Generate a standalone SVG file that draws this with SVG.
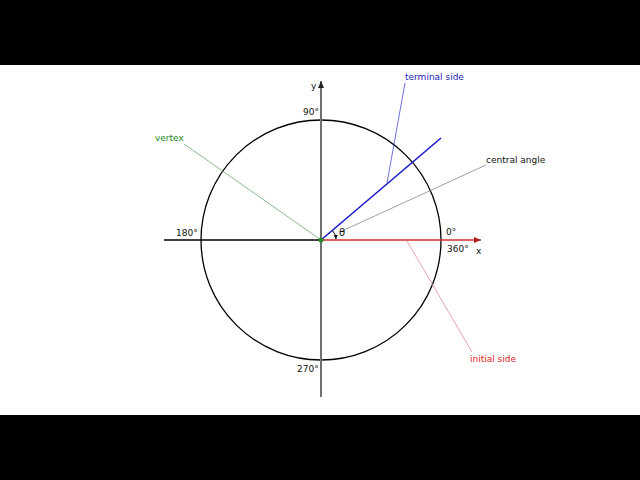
<svg xmlns="http://www.w3.org/2000/svg" width="640" height="480" viewBox="0 0 640 480">
<style>
text{font-family:"DejaVu Sans",Verdana,sans-serif;font-size:9px;fill:#111}
.lead{stroke-width:0.7;fill:none}
</style>
<defs>
<marker id="ah" markerWidth="8" markerHeight="8" refX="7" refY="4" orient="auto" markerUnits="userSpaceOnUse">
<path d="M0,1 L7,4 L0,7 Z" fill="#222"/>
</marker>
<marker id="ahr" markerWidth="8" markerHeight="8" refX="7" refY="4" orient="auto" markerUnits="userSpaceOnUse">
<path d="M0,1 L7,4 L0,7 Z" fill="#b02020"/>
</marker>
<marker id="ahs" markerWidth="5" markerHeight="5" refX="4" refY="2.5" orient="auto" markerUnits="userSpaceOnUse">
<path d="M0,0.5 L4,2.5 L0,4.5 Z" fill="#000"/>
</marker>
</defs>
<rect x="0" y="0" width="640" height="480" fill="#fff"/>
<rect x="0" y="0" width="640" height="65" fill="#000"/>
<rect x="0" y="415" width="640" height="65" fill="#000"/>
<g id="circle">
<circle cx="321" cy="240" r="120" fill="none" stroke="#000" stroke-width="1.3"/>
</g>
<g id="connectors">
<line id="y-axis" x1="321" y1="397" x2="321" y2="81" stroke="#707070" stroke-width="2" marker-end="url(#ah)"/>
<line id="x-axis-neg" x1="164" y1="240" x2="321" y2="240" stroke="#000" stroke-width="1.3"/>
<line id="initial-side" x1="321" y1="240" x2="481" y2="240" stroke="#d03030" stroke-width="1.3" marker-end="url(#ahr)"/>
<line id="terminal-side" x1="321" y1="240" x2="441" y2="138" stroke="#1a1acc" stroke-width="1.6"/>
<path id="angle-arc" d="M332.4,230.3 A15,15 0 0 1 336,239" fill="none" stroke="#000" stroke-width="1" marker-end="url(#ahs)"/>
<line class="lead" x1="405" y1="83" x2="387" y2="183" stroke="#3333cc"/>
<line class="lead" x1="342" y1="231" x2="486" y2="165" stroke="#777"/>
<line class="lead" x1="184" y1="144" x2="321" y2="240" stroke="#5a9a5a"/>
<line class="lead" x1="407" y1="241" x2="472" y2="352" stroke="#e08080"/>
</g>
<g id="vertex-dot"><circle cx="321" cy="240" r="2.5" fill="#2a8a2a"/></g>
<g id="labels">
<text x="311" y="89">y</text>
<text x="476" y="254">x</text>
<text x="303" y="115">90°</text>
<text x="176" y="236">180°</text>
<text x="446" y="235">0°</text>
<text x="447" y="252">360°</text>
<text x="297" y="372">270°</text>
<text x="339" y="236" style="font-size:10px">θ</text>
</g>
<g id="terminal-side-label"><text x="405" y="80" style="fill:#2222bb">terminal side</text></g>
<g id="central-angle-label"><text x="486" y="163">central angle</text></g>
<g id="vertex-label"><text x="155" y="141" style="fill:#228822">vertex</text></g>
<g id="initial-side-label"><text x="470" y="362" style="fill:#dd2222">initial side</text></g>
</svg>
